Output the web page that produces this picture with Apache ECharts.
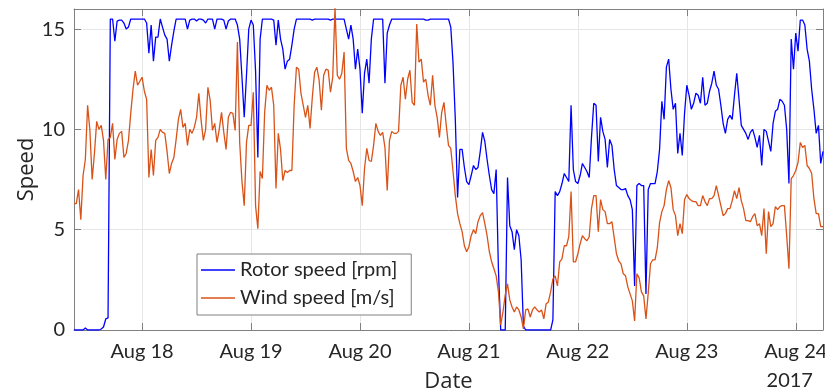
<!DOCTYPE html>
<html>
<head>
<meta charset="utf-8">
<script src="https://cdn.jsdelivr.net/npm/echarts@6.0.0/dist/echarts.min.js"></script>
<style>
  html, body { margin: 0; padding: 0; background: #ffffff; }
  #chart { width: 825px; height: 391px; }
</style>
</head>
<body>
<div id="chart"></div>
<script>
// Turbine log, half-hourly samples, 17 Aug 2017 09:00 UTC to 24 Aug 2017 06:00 UTC
const startTime = Date.UTC(2017, 7, 17, 9, 0);
const endTime = Date.UTC(2017, 7, 24, 6, 0);
const stepMinutes = 30;
const yearTickDay = Date.UTC(2017, 7, 24);

const seriesNames = ['Rotor speed [rpm]', 'Wind speed [m/s]'];
const yTicks = [0, 5, 10, 15];
const monthNames = ['Jan', 'Feb', 'Mar', 'Apr', 'May', 'Jun', 'Jul', 'Aug', 'Sep', 'Oct', 'Nov', 'Dec'];

const rotorSpeed = [
  0, 0, 0, 0, 0, 0.1, 0, 0, 0, 0,
  0, 0, 0.05, 0.15, 0.55, 0.6, 15.5, 15.5, 14.4, 15.4,
  15.45, 15.45, 15.3, 15.0, 15.1, 15.5, 15.5, 15.5, 15.5, 15.5,
  15.5, 15.5, 15.3, 13.8, 15.2, 13.4, 14.6, 14.6, 15.5, 15.1,
  14.7, 14.5, 13.4, 14.2, 14.9, 15.5, 15.5, 15.5, 15.5, 15.5,
  15.0, 15.45, 15.5, 15.5, 15.4, 15.5, 15.5, 15.45, 15.3, 15.5,
  15.5, 15.5, 15.0, 15.5, 15.5, 15.5, 15.45, 15.0, 15.4, 15.5,
  15.5, 15.5, 15.2, 14.5, 12.6, 10.6, 12.7, 15.0, 15.45, 15.2,
  12.9, 8.6, 14.5, 15.5, 15.5, 15.5, 15.5, 15.5, 15.45, 14.2,
  15.45, 14.5, 14.0, 13.0, 13.4, 13.5, 14.2, 15.0, 15.5, 15.5,
  15.5, 15.5, 15.5, 15.5, 15.5, 15.45, 15.5, 15.5, 15.5, 15.5,
  15.5, 15.5, 15.5, 15.45, 15.5, 15.5, 15.5, 15.5, 15.5, 15.5,
  15.0, 14.5, 15.2, 14.5, 13.0, 14.0, 13.0, 10.8, 12.8, 13.5,
  12.3, 14.5, 15.5, 15.5, 15.5, 15.5, 15.5, 12.3, 14.8, 15.2,
  15.5, 15.5, 15.5, 15.5, 15.5, 15.5, 15.5, 15.5, 15.5, 15.5,
  15.5, 15.5, 15.5, 15.5, 15.5, 15.45, 15.45, 15.5, 15.5, 15.5,
  15.5, 15.5, 15.5, 15.5, 15.5, 15.5, 15.1, 13.3, 10.5, 6.6,
  9.0, 9.0, 8.1, 7.4, 7.25, 7.7, 8.2, 8.0, 8.1, 8.9,
  9.85, 9.4, 8.5, 7.7, 7.0, 6.8, 8.0, 3.0, 0, 0,
  0, 7.6, 5.2, 4.9, 4.0, 5.0, 4.7, 3.5, 0.2, 0,
  0, 0, 0, 0, 0, 0, 0, 0, 0, 0,
  0, 0.5, 6.9, 6.7, 6.9, 7.3, 7.8, 7.6, 7.4, 11.2,
  8.0, 7.4, 7.3, 7.7, 8.3, 8.1, 7.9, 7.6, 9.6, 11.3,
  11.2, 8.4, 10.6, 9.9, 9.5, 8.1, 9.5, 9.2, 8.0, 7.2,
  7.1, 7.0, 7.0, 7.05, 6.7, 6.5, 6.0, 2.2, 7.2, 7.3,
  7.2, 7.2, 1.8, 7.0, 7.3, 7.3, 7.3, 7.9, 9.0, 11.4,
  10.5, 13.1, 13.5, 12.0, 11.0, 11.3, 8.8, 9.8, 8.7, 10.8,
  12.2, 11.7, 11.0, 11.3, 11.8, 11.7, 11.3, 12.6, 11.2, 11.3,
  11.9, 12.3, 12.9, 12.2, 12.0, 11.2, 10.3, 9.8, 10.5, 10.7,
  10.5, 11.7, 12.8, 11.5, 10.2, 10.0, 9.8, 9.5, 9.85, 10.0,
  9.6, 9.1, 9.7, 8.2, 10.0, 9.9, 9.4, 8.9, 10.3, 10.9,
  11.0, 11.5, 11.4, 11.2, 10.0, 7.3, 14.5, 13.0, 14.8, 13.9,
  15.45, 15.45, 15.2, 14.0, 13.4, 12.0, 11.0, 9.8, 10.2, 8.3,
  8.9
];

const windSpeed = [
  6.3, 6.3, 7.0, 5.5, 7.7, 8.5, 11.2, 9.95, 7.5, 8.8,
  10.4, 10.0, 10.2, 9.45, 7.5, 9.5, 9.6, 10.3, 8.5, 9.5,
  9.8, 9.9, 8.6, 8.8, 9.45, 10.8, 12.0, 12.9, 12.2, 12.4,
  12.6, 11.9, 11.5, 7.6, 9.0, 7.7, 9.45, 9.6, 10.0, 9.85,
  9.8, 8.9, 7.8, 8.3, 8.6, 9.5, 10.5, 11.0, 10.1, 10.3,
  9.2, 10.0, 9.8, 10.1, 10.6, 11.8, 10.45, 9.45, 10.0, 12.1,
  11.45, 9.95, 10.3, 9.35, 10.0, 10.85, 9.85, 9.0, 10.6, 10.85,
  10.8, 9.95, 14.35, 9.35, 7.4, 6.2, 9.35, 10.2, 10.2, 11.85,
  6.2, 5.05, 7.9, 7.55, 10.85, 12.2, 11.95, 12.1, 11.2, 7.05,
  9.8, 9.0, 7.45, 7.95, 7.85, 7.95, 7.95, 11.2, 13.1, 13.0,
  11.8, 11.2, 10.6, 11.2, 10.05, 11.6, 12.85, 13.1, 12.45, 10.95,
  12.7, 13.0, 12.95, 11.85, 12.6, 16.1, 12.7, 12.5, 12.8, 13.85,
  9.05, 8.45, 8.3, 7.9, 7.4, 7.6, 7.2, 6.2, 8.05, 9.05,
  8.45, 8.4, 9.2, 10.3, 9.9, 9.7, 9.85, 9.1, 6.95, 9.45,
  9.9, 9.8, 9.8, 9.9, 12.2, 12.6, 11.5, 12.5, 12.95, 11.35,
  11.2, 15.25, 13.35, 13.5, 12.35, 12.5, 11.7, 11.2, 12.7, 11.2,
  10.6, 9.6, 10.85, 11.35, 10.2, 9.2, 9.05, 7.9, 6.7, 5.8,
  5.3, 4.9, 4.2, 3.9, 4.15, 4.7, 5.0, 4.8, 5.4, 5.7,
  5.85, 5.3, 4.7, 3.9, 3.4, 3.05, 2.7, 1.9, 0.25, 0.9,
  1.75, 2.3, 1.5, 1.15, 0.9, 1.15, 1.0, 0.65, 0.05, 1.0,
  1.05, 0.65, 1.0, 1.15, 1.0, 0.9, 1.0, 0.55, 1.3, 1.4,
  1.9, 2.55, 2.7, 2.2, 3.4, 3.55, 4.2, 4.2, 4.65, 6.9,
  3.4, 3.4, 3.8, 4.3, 4.7, 4.55, 4.45, 4.65, 6.05, 6.7,
  6.7, 4.9, 6.5, 6.0, 5.9, 5.3, 5.3, 5.4, 4.6, 3.8,
  3.45, 3.3, 2.8, 2.7, 2.15, 1.8, 1.45, 0.45, 2.8, 2.6,
  1.9, 1.7, 0.55, 1.85, 3.3, 3.5, 3.5, 4.1, 5.35, 5.9,
  6.2, 7.0, 7.45, 7.1, 6.0, 5.7, 4.7, 5.3, 4.8, 6.5,
  6.75, 6.55, 6.45, 6.4, 6.4, 6.2, 6.2, 6.7, 6.4, 6.2,
  6.55, 6.55, 6.7, 7.2, 6.7, 6.2, 5.7, 5.8, 6.05, 6.05,
  6.45, 6.95, 6.55, 7.1, 6.45, 6.05, 5.45, 5.45, 5.4, 5.65,
  5.8, 5.2, 5.3, 4.7, 6.05, 3.8, 5.9, 5.15, 5.3, 6.15,
  6.0, 6.15, 6.2, 6.2, 4.7, 3.05, 7.55, 7.7, 7.95, 8.35,
  9.35, 9.1, 9.2, 8.2, 8.05, 7.8, 6.55, 5.8, 5.8, 5.15,
  5.15
];

const FONT = 'Lato, "Open Sans", sans-serif';
const NAME_FONT = '"Open Sans", Lato, sans-serif';
const TEXT = '#262626';
const FRAME = '#808080';
const GRID = '#e6e6e6';
const DAY = 24 * 3600 * 1000;

function toPairs(values) {
  return values.map((v, i) => [startTime + i * stepMinutes * 60000, v]);
}

function dayLabel(value) {
  const d = new Date(value);
  if (d.getUTCHours() !== 0 || d.getUTCMinutes() !== 0) return '';
  const text = monthNames[d.getUTCMonth()] + ' ' + d.getUTCDate();
  if (value === yearTickDay) return '{d|' + text + '}\n{y|' + d.getUTCFullYear() + '}';
  return text;
}

const labelFont = { fontFamily: FONT, fontSize: 20, color: TEXT };
const nameFont = { fontFamily: NAME_FONT, fontSize: 22, color: TEXT };

const xBase = {
  type: 'time',
  min: startTime,
  max: endTime,
  minInterval: DAY,
  maxInterval: DAY,
  axisLine: { show: true, onZero: false, lineStyle: { color: FRAME, width: 1 } },
  axisTick: { show: true, inside: true, length: 7, lineStyle: { color: FRAME } }
};

const yBase = {
  type: 'value',
  min: 0,
  max: 16,
  interval: 5,
  axisLine: { show: true, lineStyle: { color: FRAME, width: 1 } },
  axisTick: { show: true, inside: true, length: 7, lineStyle: { color: FRAME } }
};

const chart = echarts.init(document.getElementById('chart'), null, { renderer: 'canvas' });
chart.setOption({
  animation: false,
  useUTC: true,
  backgroundColor: '#ffffff',
  grid: { left: 74, right: 2, top: 9, bottom: 61, containLabel: false, outerBoundsMode: 'none' },
  legend: {
    orient: 'vertical',
    left: 197,
    top: 254,
    padding: [5, 14, 6, 4],
    itemGap: 6,
    itemWidth: 34,
    itemHeight: 1.4,
    icon: 'rect',
    backgroundColor: '#ffffff',
    borderColor: FRAME,
    borderWidth: 1,
    borderRadius: 0,
    textStyle: { fontFamily: FONT, fontSize: 20, color: TEXT, lineHeight: 22 },
    data: seriesNames
  },
  xAxis: [
    Object.assign({}, xBase, {
      position: 'bottom',
      name: 'Date',
      nameLocation: 'middle',
      nameGap: 41,
      nameMoveOverlap: false,
      nameTextStyle: nameFont,
      splitLine: { show: true, lineStyle: { color: GRID, width: 1 } },
      axisLabel: Object.assign({}, labelFont, {
        margin: 10,
        lineHeight: 24,
        showMinLabel: false,
        showMaxLabel: false,
        formatter: dayLabel,
        rich: {
          d: Object.assign({}, labelFont, { lineHeight: 24 }),
          y: Object.assign({}, labelFont, { lineHeight: 33, padding: [0, 12, 0, 0] })
        }
      })
    }),
    Object.assign({}, xBase, {
      position: 'top',
      splitLine: { show: false },
      axisLabel: { show: false }
    })
  ],
  yAxis: [
    Object.assign({}, yBase, {
      position: 'left',
      name: 'Speed',
      nameLocation: 'middle',
      nameGap: 36,
      nameMoveOverlap: false,
      nameTextStyle: nameFont,
      splitLine: { show: true, lineStyle: { color: GRID, width: 1 } },
      axisLabel: Object.assign({}, labelFont, {
        margin: 9,
        showMaxLabel: false,
        formatter: v => (yTicks.includes(v) ? String(v) : '')
      })
    }),
    Object.assign({}, yBase, {
      position: 'right',
      splitLine: { show: false },
      axisLabel: { show: false }
    })
  ],
  series: [
    {
      name: seriesNames[0],
      type: 'line',
      xAxisIndex: 0,
      yAxisIndex: 0,
      data: toPairs(rotorSpeed),
      symbol: 'none',
      clip: true,
      lineStyle: { color: '#0000ff', width: 1.3 },
      itemStyle: { color: '#0000ff' },
      z: 2
    },
    {
      name: seriesNames[1],
      type: 'line',
      xAxisIndex: 0,
      yAxisIndex: 0,
      data: toPairs(windSpeed),
      symbol: 'none',
      clip: true,
      lineStyle: { color: '#d95319', width: 1.3 },
      itemStyle: { color: '#d95319' },
      z: 3
    }
  ]
});
</script>
</body>
</html>
